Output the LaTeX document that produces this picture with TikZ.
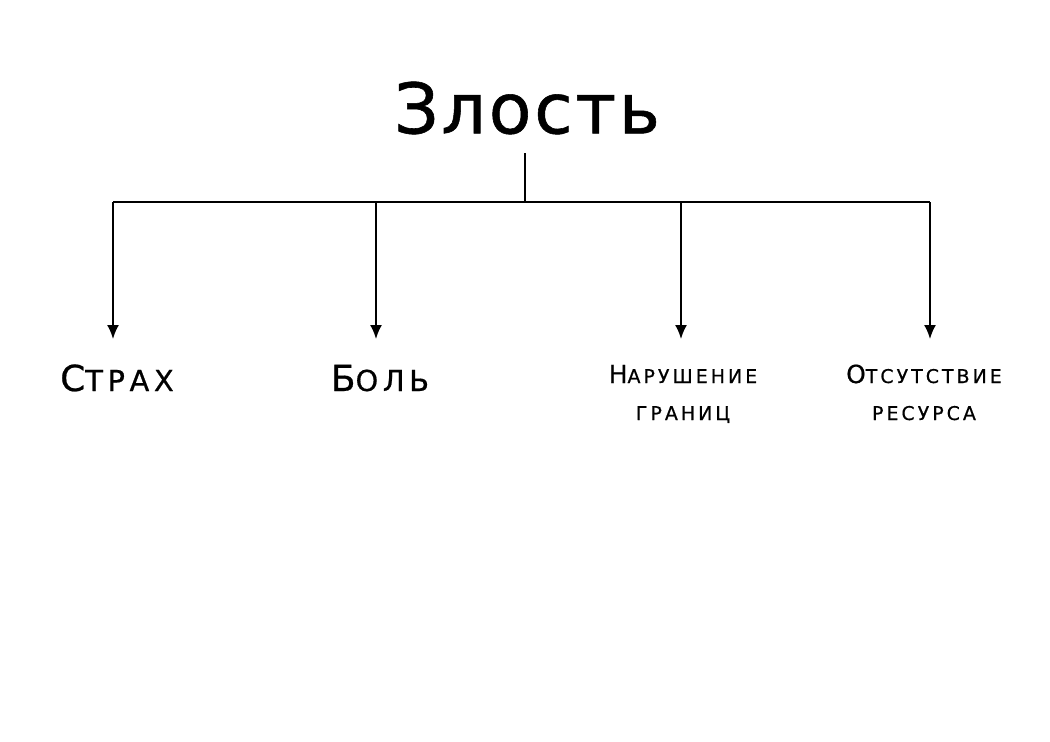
\documentclass[tikz,border=0pt]{standalone}
\usepackage{fontspec}
\setmainfont{DejaVu Sans}[LetterSpace=16,FakeBold=0.6]
\newfontfamily\titlefont{DejaVu Sans}[LetterSpace=4,FakeBold=0.8]
\begin{document}
\begin{tikzpicture}[x=1bp,y=-1bp,
  arr/.style={-{Latex[length=14bp,width=12bp]}, line width=1.8bp},
  ln/.style={line width=1.8bp},
  lab/.style={inner sep=0pt, align=center}]
\usetikzlibrary{arrows.meta}
\useasboundingbox (0,0) rectangle (1050,742);
\node[inner sep=0pt, font=\titlefont\fontsize{70}{70}\selectfont] (t) at (527,108) {Злость};
\coordinate (top) at (525,153);
\coordinate (mid) at (525,202);
\coordinate (l) at (113,202);
\coordinate (r) at (930,202);
\coordinate (b) at (376,202);
\coordinate (n) at (681,202);
\draw[ln] (top) -- (mid);
\draw[ln] (l) -- (r);
\node[lab, anchor=base, font=\fontsize{36}{36}\selectfont] (s) at (117,391) {С\fontsize{29}{29}\selectfont ТРАХ};
\node[lab, anchor=base, font=\fontsize{36}{36}\selectfont] (bo) at (380,391) {Б\fontsize{29}{29}\selectfont ОЛЬ};
\node[lab, anchor=base, font=\fontsize{25}{25}\selectfont] (nar) at (683,383) {Н\fontsize{19}{19}\selectfont АРУШЕНИЕ};
\node[lab, anchor=base, font=\fontsize{19}{19}\selectfont] (gr) at (683,420) {ГРАНИЦ};
\node[lab, anchor=base, font=\fontsize{25}{25}\selectfont] (ot) at (924,383) {О\fontsize{19}{19}\selectfont ТСУТСТВИЕ};
\node[lab, anchor=base, font=\fontsize{19}{19}\selectfont] (re) at (924,420) {РЕСУРСА};
\draw[arr] (l) -- (113,339);
\draw[arr] (b) -- (376,339);
\draw[arr] (n) -- (681,339);
\draw[arr] (r) -- (930,339);
\end{tikzpicture}
\end{document}
